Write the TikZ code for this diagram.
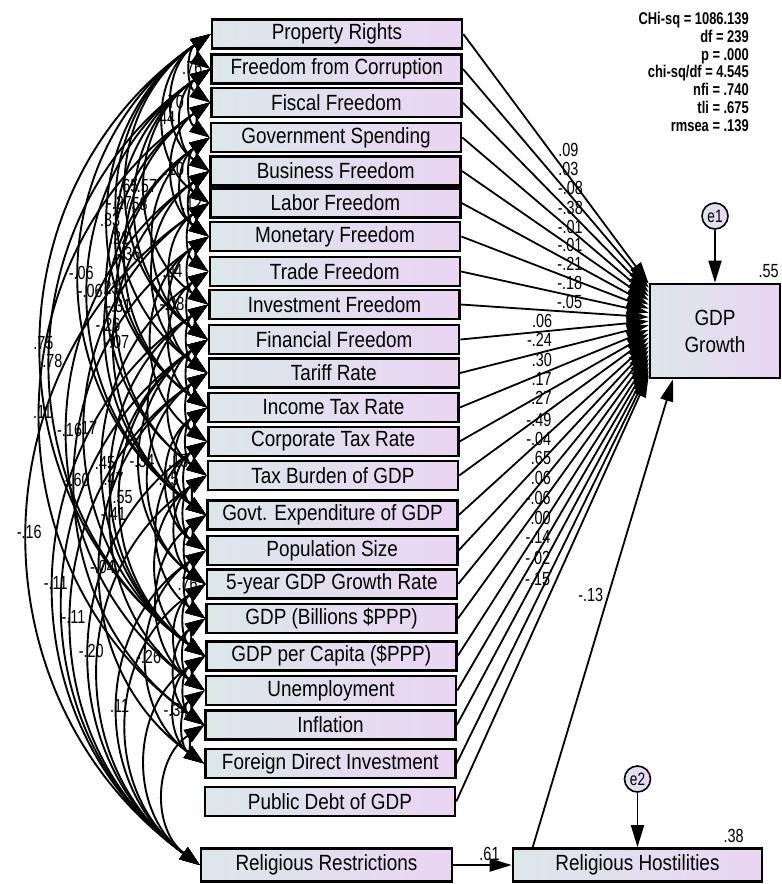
\documentclass[tikz,border=0pt]{standalone}
\usepackage{fontspec}
\setmainfont{Liberation Sans}[FakeStretch=0.86]
\newfontfamily\numfont{Liberation Sans}[FakeStretch=0.76]
\usetikzlibrary{arrows.meta}
\definecolor{boxleft}{RGB}{220,231,234}
\definecolor{boxright}{RGB}{234,213,243}
\tikzset{
	var/.style={draw, line width=2.6pt, left color=boxleft, right color=boxright,
		minimum width=250pt, minimum height=29pt, inner sep=0pt,
		font=\fontsize{22}{24}\selectfont},
	err/.style={draw, circle, line width=1.6pt, left color=boxleft, right color=boxright,
		minimum size=26pt, inner sep=0pt, font=\numfont\fontsize{18}{18}\selectfont},
	reg/.style={line width=1.8pt, -{Triangle[length=22pt,width=13pt]}},
	cov/.style={line width=1.9pt, {Triangle[length=20pt,width=14pt]}-{Triangle[length=20pt,width=14pt]},
		bend right=55, looseness=1.1},
	coef/.style={font=\numfont\fontsize{19}{20}\selectfont, inner sep=1.5pt},
	fitstat/.style={align=right, inner sep=0pt, font=\numfont\bfseries\fontsize{17}{17.8}\selectfont},
}

\begin{document}
\begin{tikzpicture}[x=1pt, y=1pt]
	\useasboundingbox (0,0) rectangle (782,-884);
	% Observed variables:
	\node[var] (pr) at (337,-34) {Property Rights};
	\node[var] (fc) at (336.7,-69) {Freedom from Corruption};
	\node[var] (ff) at (336.4,-102.5) {Fiscal Freedom};
	\node[var] (gs) at (336,-137.5) {Government Spending};
	\node[var] (bf) at (335.7,-171) {Business Freedom};
	\node[var] (lf) at (335.4,-203) {Labor Freedom};
	\node[var] (mf) at (335.1,-236.5) {Monetary Freedom};
	\node[var] (tf) at (334.8,-271.5) {Trade Freedom};
	\node[var] (inv) at (334.5,-304.5) {Investment Freedom};
	\node[var] (fin) at (334.1,-339.5) {Financial Freedom};
	\node[var] (tr) at (333.8,-373) {Tariff Rate};
	\node[var] (itr) at (333.5,-407.5) {Income Tax Rate};
	\node[var] (ctr) at (333.2,-441.5) {Corporate Tax Rate};
	\node[var] (tb) at (332.9,-475.5) {Tax Burden of GDP};
	\node[var] (ge) at (332.5,-515) {Govt. Expenditure of GDP};
	\node[var] (ps) at (332.2,-550.5) {Population Size};
	\node[var] (gr) at (331.9,-584) {5-year GDP Growth Rate};
	\node[var] (gdpb) at (331.6,-618.5) {GDP (Billions \$PPP)};
	\node[var] (gdpc) at (331.3,-656) {GDP per Capita (\$PPP)};
	\node[var] (un) at (331,-690.5) {Unemployment};
	\node[var] (infl) at (330.6,-725) {Inflation};
	\node[var] (fdi) at (330.3,-763.5) {Foreign Direct Investment};
	\node[var] (pd) at (330,-801.5) {Public Debt of GDP};
	\node[var, minimum width=251pt, minimum height=33pt] (rr) at (326.5,-865) {Religious Restrictions};
	\node[var, minimum width=249pt, minimum height=33pt] (rh) at (637.5,-865) {Religious Hostilities};
	\node[var, minimum width=130pt, minimum height=94pt, align=center,
		font=\fontsize{22}{27}\selectfont] (gdp) at (715,-331) {GDP\\Growth};
	% Error terms:
	\node[err] (e1) at (715,-216) {e1};
	\node[err] (e2) at (637.5,-779) {e2};
	% Fit statistics and R squared:
	\node[fitstat, anchor=north east] (fitbox) at (749,-12) {CHi-sq = 1086.139\\df = 239\\p = .000\\chi-sq/df = 4.545\\nfi = .740\\tli = .675\\rmsea = .139};
	\node[coef, anchor=south east] (r2gdp) at ([xshift=-1pt, yshift=3pt]gdp.north east) {.55};
	\node[coef, anchor=south east] (r2rh) at ([xshift=-18pt, yshift=3pt]rh.north east) {.38};
	% Covariances whose labels can be read:
	\draw[cov] (pr.west) to node[coef] {.76} (ff.west);
	\draw[cov] (pr.west) to node[coef] {.70} (bf.west);
	\draw[cov] (pr.west) to node[coef] {.44} (lf.west);
	\draw[cov] (ff.west) to node[coef] {.10} (mf.west);
	\draw[cov] (bf.west) to node[coef] {.12} (mf.west);
	\draw[cov] (pr.west) to node[coef] {.65} (fin.west);
	\draw[cov] (fc.west) to node[coef] {.57} (inv.west);
	\draw[cov] (pr.west) to node[coef] {-.27} (tr.west);
	\draw[cov] (fc.west) to node[coef] {.58} (fin.west);
	\draw[cov] (pr.west) to node[coef] {.33} (itr.west);
	\draw[cov] (fc.west) to node[coef] {.22} (itr.west);
	\draw[cov] (ff.west) to node[coef] {-.36} (itr.west);
	\draw[cov] (lf.west) to node[coef] {.04} (fin.west);
	\draw[cov] (pr.west) to node[coef] {-.06} (ge.west);
	\draw[cov] (fc.west) to node[coef] {-.06} (ge.west);
	\draw[cov] (ff.west) to node[coef] {.23} (tb.west);
	\draw[cov] (gs.west) to node[coef] {-.31} (tb.west);
	\draw[cov] (mf.west) to node[coef] {-.08} (tr.west);
	\draw[cov] (gs.west) to node[coef] {-.26} (ge.west);
	\draw[cov] (bf.west) to node[coef] {-.07} (ge.west);
	\draw[cov] (pr.west) to node[coef] {.75} (gdpc.west);
	\draw[cov] (fc.west) to node[coef] {.78} (gdpc.west);
	\draw[cov] (ff.west) to node[coef] {.11} (infl.west);
	\draw[cov] (bf.west) to node[coef] {-.16} (un.west);
	\draw[cov] (lf.west) to node[coef] {.17} (gdpc.west);
	\draw[cov] (tf.west) to node[coef] {.45} (gdpc.west);
	\draw[cov] (fin.west) to node[coef] {-.34} (gr.west);
	\draw[cov] (itr.west) to node[coef] {.18} (ge.west);
	\draw[cov] (mf.west) to node[coef] {-.60} (infl.west);
	\draw[cov] (inv.west) to node[coef] {.47} (gdpc.west);
	\draw[cov] (itr.west) to node[coef] {.15} (ps.west);
	\draw[cov] (fin.west) to node[coef] {.55} (gdpc.west);
	\draw[cov] (fin.west) to node[coef] {-.41} (un.west);
	\draw[cov] (lf.west) to node[coef] {-.16} (rr.west);
	\draw[cov] (tr.west) to node[coef] {-.04} (fdi.west);
	\draw[cov] (ps.west) to node[coef] {.76} (gdpb.west);
	\draw[cov] (inv.west) to node[coef] {-.11} (rr.west);
	\draw[cov] (tr.west) to node[coef] {-.11} (rr.west);
	\draw[cov] (ctr.west) to node[coef] {-.20} (rr.west);
	\draw[cov] (ps.west) to node[coef] {-.26} (fdi.west);
	\draw[cov] (ps.west) to node[coef] {.11} (rr.west);
	\draw[cov] (gdpc.west) to node[coef] {-.34} (fdi.west);
	% Covariances whose labels are hidden in the tangle:
	\foreach \a/\b in {pr/fc, fc/ff, ff/gs, gs/bf, bf/lf, lf/mf, mf/tf, tf/inv, inv/fin, fin/tr, tr/itr,
		itr/ctr, ctr/tb, tb/ge, ge/ps, ps/gr, gr/gdpb, gdpb/gdpc, gdpc/un, un/infl, infl/fdi,
		fc/gs, gs/lf, lf/tf, tf/fin, inv/tr, fin/itr, tr/ctr, itr/tb, ctr/ge, tb/ps, ge/gr,
		gr/gdpc, gdpb/un, gdpc/infl, un/fdi, fc/bf, gs/mf, mf/inv, tf/itr, fin/tb, ctr/ps,
		tb/gr, gr/un, gdpb/infl, gs/fin, bf/tr, mf/ctr, inv/ge, tr/gr, ctr/gdpb, tb/gdpc,
		ge/un, fin/rr, tb/rr, gr/rr, gdpc/rr, infl/rr}
		\draw[cov] (\a.west) to (\b.west);
	% Regression paths:
	\draw[reg] (pr.east) -- ([yshift=-1pt]gdp.north west) node[coef, midway, auto] {.09};
	\draw[reg] (fc.east) -- ([yshift=-5pt]gdp.north west) node[coef, midway, auto] {.03};
	\draw[reg] (ff.east) -- ([yshift=-9.5pt]gdp.north west) node[coef, midway, auto] {-.08};
	\draw[reg] (gs.east) -- ([yshift=-13.5pt]gdp.north west) node[coef, midway, auto] {-.38};
	\draw[reg] (bf.east) -- ([yshift=-17.5pt]gdp.north west) node[coef, midway, auto] {-.01};
	\draw[reg] (lf.east) -- ([yshift=-22pt]gdp.north west) node[coef, midway, auto] {-.01};
	\draw[reg] (mf.east) -- ([yshift=-26pt]gdp.north west) node[coef, midway, auto] {-.21};
	\draw[reg] (tf.east) -- ([yshift=-30pt]gdp.north west) node[coef, midway, auto] {-.18};
	\draw[reg] (inv.east) -- ([yshift=-34.5pt]gdp.north west) node[coef, midway, auto] {-.05};
	\draw[reg] (fin.east) -- ([yshift=-38.5pt]gdp.north west) node[coef, midway, auto] {.06};
	\draw[reg] (tr.east) -- ([yshift=-42.5pt]gdp.north west) node[coef, midway, auto] {-.24};
	\draw[reg] (itr.east) -- ([yshift=-47pt]gdp.north west) node[coef, midway, auto] {.30};
	\draw[reg] (ctr.east) -- ([yshift=-51pt]gdp.north west) node[coef, midway, auto] {.17};
	\draw[reg] (tb.east) -- ([yshift=-55pt]gdp.north west) node[coef, midway, auto] {.27};
	\draw[reg] (ge.east) -- ([yshift=-59.5pt]gdp.north west) node[coef, midway, auto] {-.49};
	\draw[reg] (ps.east) -- ([yshift=-63.5pt]gdp.north west) node[coef, midway, auto] {-.04};
	\draw[reg] (gr.east) -- ([yshift=-67.5pt]gdp.north west) node[coef, midway, auto] {.65};
	\draw[reg] (gdpb.east) -- ([yshift=-72pt]gdp.north west) node[coef, midway, auto] {.06};
	\draw[reg] (gdpc.east) -- ([yshift=-76pt]gdp.north west) node[coef, midway, auto] {-.06};
	\draw[reg] (un.east) -- ([yshift=-80pt]gdp.north west) node[coef, midway, auto] {.00};
	\draw[reg] (infl.east) -- ([yshift=-84.5pt]gdp.north west) node[coef, midway, auto] {-.14};
	\draw[reg] (fdi.east) -- ([yshift=-88.5pt]gdp.north west) node[coef, midway, auto] {-.02};
	\draw[reg] (pd.east) -- ([yshift=-92.5pt]gdp.north west) node[coef, midway, auto] {-.15};
	\draw[reg] (rr.east) -- (rh.west) node[coef, pos=0.62, above=2pt] {.61};
	\draw[reg] ([xshift=21pt]rh.north west) -- ([xshift=-42pt]gdp.south) node[coef, pos=0.52, auto] {-.13};
	\draw[reg] (e1) -- (gdp.north);
	\draw[reg] (e2) -- (rh.north);
\end{tikzpicture}
\end{document}
